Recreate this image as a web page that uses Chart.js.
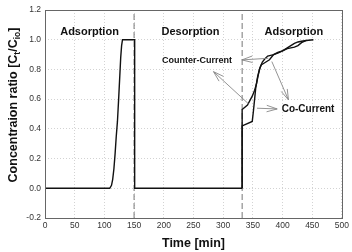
<!DOCTYPE html>
<html>
<head>
<meta charset="utf-8">
<script src="https://cdn.jsdelivr.net/npm/chart.js@4.4.1/dist/chart.umd.min.js"></script>
<style>
html, body { margin: 0; padding: 0; background: #fff; }
canvas { display: block; }
</style>
</head>
<body>
<canvas id="chart" width="352" height="252"></canvas>
<script>
// first adsorption step followed by desorption
const run1Time = [0, 109, 112, 114, 116, 118, 120, 122, 124, 126, 127.5, 129, 130.5, 151, 151, 332];
const run1Conc = [0, 0, 0.02, 0.06, 0.13, 0.23, 0.35, 0.45, 0.6, 0.76, 0.88, 0.96, 1.0, 1.0, 0, 0];

// second adsorption, two flow modes
const counterTime = [332, 332, 341, 349, 353, 356, 359, 362, 366, 370, 375, 380, 385, 392, 400, 408, 414, 420, 426, 432, 440, 452];
const counterConc = [0, 0.53, 0.56, 0.62, 0.66, 0.70, 0.76, 0.81, 0.85, 0.87, 0.89, 0.895, 0.9, 0.91, 0.925, 0.945, 0.96, 0.975, 0.985, 0.99, 0.995, 1.0];
const coTime = [332, 332, 349, 351, 353, 355, 358, 361, 364, 368, 372, 378, 385, 392, 400, 408, 414, 420, 426, 432, 440];
const coConc = [0, 0.42, 0.45, 0.52, 0.6, 0.68, 0.75, 0.8, 0.83, 0.84, 0.85, 0.865, 0.9, 0.915, 0.925, 0.94, 0.945, 0.95, 0.96, 0.98, 0.995];

// step changes (dashed markers)
const switchTimes = [150, 332];

const xTicks = [0, 50, 100, 150, 200, 250, 300, 350, 400, 450, 500];
const yTicks = [-0.2, 0, 0.2, 0.4, 0.6, 0.8, 1.0, 1.2];

const FONT = "'Liberation Sans', Arial, Helvetica, sans-serif";

function toPoints(xs, ys) {
    return xs.map((x, i) => ({ x: x, y: ys[i] }));
}

const datasets = [];
switchTimes.forEach(t => {
    datasets.push({
        data: [{ x: t, y: -0.2 }, { x: t, y: 1.2 }],
        borderColor: '#777',
        borderWidth: 1,
        borderDash: [6, 3],
        pointRadius: 0,
        order: 5
    });
});
[[run1Time, run1Conc], [counterTime, counterConc], [coTime, coConc]].forEach(s => {
    datasets.push({
        data: toPoints(s[0], s[1]),
        borderColor: '#111',
        borderWidth: 1.4,
        pointRadius: 0,
        tension: 0,
        order: 1
    });
});

// labels and arrows, in data coordinates
const notes = {
    labels: [
        { text: 'Adsorption', x: 75, y: 1.053, size: 11 },
        { text: 'Desorption', x: 245, y: 1.053, size: 11 },
        { text: 'Adsorption', x: 419, y: 1.053, size: 11 },
        { text: 'Counter-Current', x: 256, y: 0.857, size: 9 },
        { text: 'Co-Current', x: 443, y: 0.532, size: 10 }
    ],
    arrows: [
        [376, 0.875, 331.6, 0.864],
        [342.8, 0.568, 283.8, 0.785],
        [382, 0.853, 410, 0.595],
        [357, 0.539, 391, 0.534]
    ]
};

const decorPlugin = {
    id: 'decor',
    afterDatasetsDraw(chart) {
        const ctx = chart.ctx;
        const xs = chart.scales.x, ys = chart.scales.y;
        const a = chart.chartArea;
        ctx.save();
        // frame
        ctx.strokeStyle = '#666';
        ctx.lineWidth = 1;
        ctx.strokeRect(Math.round(a.left) + 0.5, Math.round(a.top) + 0.5, Math.round(a.right - a.left), Math.round(a.bottom - a.top));
        // arrows
        ctx.strokeStyle = '#888';
        ctx.lineWidth = 0.9;
        notes.arrows.forEach(r => {
            const x1 = xs.getPixelForValue(r[0]), y1 = ys.getPixelForValue(r[1]);
            const x2 = xs.getPixelForValue(r[2]), y2 = ys.getPixelForValue(r[3]);
            const ang = Math.atan2(y2 - y1, x2 - x1);
            ctx.beginPath();
            ctx.moveTo(x1, y1);
            ctx.lineTo(x2, y2);
            ctx.moveTo(x2 - 11 * Math.cos(ang - 0.3), y2 - 11 * Math.sin(ang - 0.3));
            ctx.lineTo(x2, y2);
            ctx.lineTo(x2 - 11 * Math.cos(ang + 0.3), y2 - 11 * Math.sin(ang + 0.3));
            ctx.stroke();
        });
        // text labels
        ctx.fillStyle = '#111';
        ctx.textAlign = 'center';
        ctx.textBaseline = 'middle';
        notes.labels.forEach(l => {
            ctx.font = 'bold ' + l.size + 'px ' + FONT;
            ctx.fillText(l.text, xs.getPixelForValue(l.x), ys.getPixelForValue(l.y));
        });
        ctx.restore();
    },
    afterDraw(chart) {
        // y axis title with subscripts
        const ctx = chart.ctx;
        const parts = [
            ['Concentraion ratio [C', false],
            ['t', true],
            ['/C', false],
            ['io', true],
            [']', false]
        ];
        const main = 'bold 12.5px ' + FONT, sub = 'bold 8.5px ' + FONT;
        ctx.save();
        let total = 0;
        parts.forEach(p => { ctx.font = p[1] ? sub : main; total += ctx.measureText(p[0]).width; });
        ctx.translate(14, 105);
        ctx.rotate(-Math.PI / 2);
        ctx.fillStyle = '#111';
        ctx.textBaseline = 'middle';
        ctx.textAlign = 'left';
        let pos = -total / 2;
        parts.forEach(p => {
            ctx.font = p[1] ? sub : main;
            ctx.fillText(p[0], pos, p[1] ? 3.5 : 0);
            pos += ctx.measureText(p[0]).width;
        });
        ctx.restore();
    }
};

new Chart(document.getElementById('chart'), {
    type: 'line',
    data: { datasets: datasets },
    options: {
        responsive: false,
        animation: false,
        devicePixelRatio: 1,
        layout: { padding: { left: 0, right: 10, top: 10, bottom: 0 } },
        plugins: { legend: { display: false }, tooltip: { enabled: false } },
        scales: {
            x: {
                type: 'linear',
                min: 0,
                max: 500,
                afterBuildTicks: s => { s.ticks = xTicks.map(v => ({ value: v })); },
                afterFit: s => { s.height = 34; },
                ticks: { font: { family: FONT, size: 8.5 }, color: '#333', padding: 3, maxRotation: 0 },
                grid: { color: '#c8c8c8', lineWidth: 0.8, drawTicks: false },
                border: { display: false, dash: [1, 2] },
                title: { display: true, text: 'Time [min]', font: { family: FONT, size: 12.5, weight: 'bold' }, color: '#111', padding: { top: 4, bottom: 1 } }
            },
            y: {
                type: 'linear',
                min: -0.2,
                max: 1.2,
                afterBuildTicks: s => { s.ticks = yTicks.map(v => ({ value: v })); },
                afterFit: s => { s.width = 45; },
                ticks: { font: { family: FONT, size: 8.5 }, color: '#333', padding: 4, callback: v => Number(v).toFixed(1) },
                grid: { color: '#c8c8c8', lineWidth: 0.8, drawTicks: false },
                border: { display: false, dash: [1, 2] }
            }
        }
    },
    plugins: [decorPlugin]
});
</script>
</body>
</html>
